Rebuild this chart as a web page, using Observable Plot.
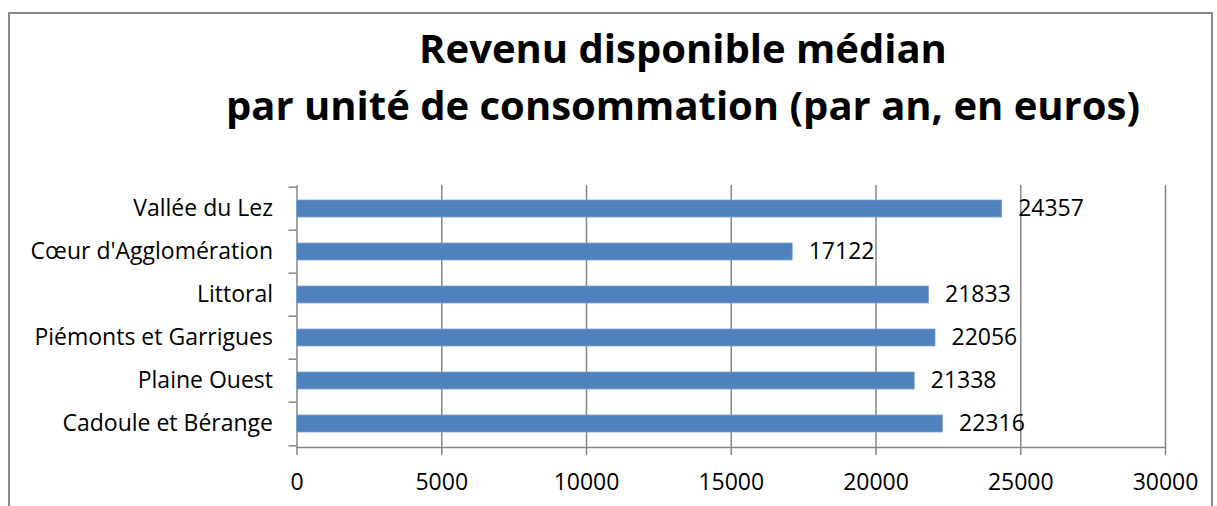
<!DOCTYPE html>
<html>
<head>
<meta charset="utf-8">
<script src="https://cdn.jsdelivr.net/npm/d3@7"></script>
<script src="https://cdn.jsdelivr.net/npm/@observablehq/plot@0.6"></script>
<style>
  html, body { margin: 0; padding: 0; background: #fff; }
  body { width: 1217px; height: 506px; position: relative; overflow: hidden; font-family: "Open Sans", sans-serif; }
  #frame { position: absolute; left: 8px; top: 12px; width: 1205px; height: 520px; border: 2px solid #8a8a8a; box-sizing: border-box; }
  #title { position: absolute; left: 0; top: 19px; width: 1366px; text-align: center; font-weight: bold; font-size: 40px; line-height: 57px; color: #000; }
  #chart { position: absolute; left: 0; top: 160px; }
</style>
</head>
<body>
<div id="frame"></div>
<div id="title">Revenu disponible médian<br>par unité de consommation (par an, en euros)</div>
<div id="chart"></div>
<script>
const categories = ["Vallée du Lez", "Cœur d'Agglomération", "Littoral", "Piémonts et Garrigues", "Plaine Ouest", "Cadoule et Bérange"];
const values = [24357, 17122, 21833, 22056, 21338, 22316];
const xTicks = [0, 5000, 10000, 15000, 20000, 25000, 30000];

const data = categories.map((c, i) => ({name: c, value: values[i]}));

const W = 1217, H = 346;
const mTop = 25, mBottom = 59, mLeft = 296.5, mRight = 52;
const step = (H - mTop - mBottom) / categories.length;
const gray = "#868686";
const fs = 23;

const chart = Plot.plot({
  width: W,
  height: H,
  marginTop: mTop,
  marginBottom: mBottom,
  marginLeft: mLeft,
  marginRight: mRight,
  style: {fontFamily: "'Open Sans', sans-serif", fontSize: fs + "px", color: "#000", background: "transparent"},
  x: {domain: [0, 30000], ticks: xTicks, tickFormat: d => String(d)},
  y: {domain: categories, paddingInner: 0.6, paddingOuter: 0.3},
  marks: [
    Plot.ruleX(xTicks, {stroke: gray, strokeWidth: 1.5}),
    Plot.frame({anchor: "bottom", stroke: gray, strokeWidth: 1.5}),
    Plot.axisX({ticks: xTicks, tickSize: 8, tickPadding: 18, stroke: gray, strokeWidth: 1.5, fill: "#000", fontSize: fs, tickFormat: d => String(d), label: null}),
    Plot.axisY({tickSize: 0, tickPadding: 24, fill: "#000", fontSize: fs, label: null}),
    Plot.axisY({tickSize: 8, text: null, dy: -step / 2, stroke: gray, strokeWidth: 1.5, label: null}),
    Plot.axisY([categories[categories.length - 1]], {tickSize: 8, text: null, dy: step / 2, stroke: gray, strokeWidth: 1.5, label: null}),
    Plot.barX(data, {x: "value", y: "name", fill: "#4F81BD", stroke: "#7EA3CF", strokeWidth: 0.8}),
    Plot.text(data, {x: "value", y: "name", text: d => String(d.value), dx: 16, textAnchor: "start", fill: "#000", fontSize: fs})
  ]
});
document.getElementById("chart").appendChild(chart);
</script>
</body>
</html>
